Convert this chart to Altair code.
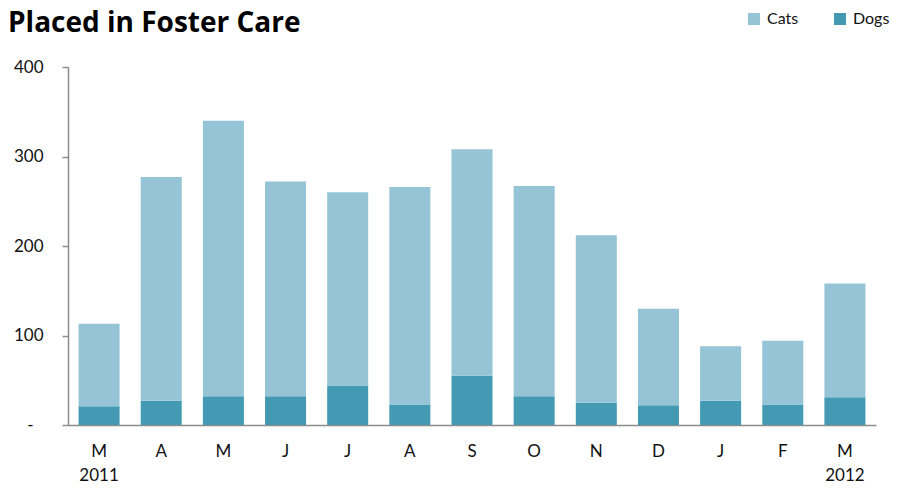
import altair as alt
import pandas as pd

months = ["Mar 2011", "Apr", "May", "Jun", "Jul", "Aug", "Sep", "Oct", "Nov", "Dec", "Jan", "Feb", "Mar 2012"]
cats = [92, 250, 308, 240, 216, 243, 253, 235, 187, 108, 61, 71, 127]
dogs = [21, 27, 32, 32, 44, 23, 55, 32, 25, 22, 27, 23, 31]
series = ["Cats", "Dogs"]
colors = ["#94C4D5", "#439AB2"]
y_ticks = [0, 100, 200, 300, 400]

rows = []
for m, c, d in zip(months, cats, dogs):
    rows.append({"month": m, "animal": "Dogs", "count": d, "ord": 0})
    rows.append({"month": m, "animal": "Cats", "count": c, "ord": 1})
df = pd.DataFrame(rows)

FONT = "Lato"

chart = alt.Chart(df).mark_bar().encode(
    x=alt.X("month:N", sort=months,
            scale=alt.Scale(paddingInner=0.34, paddingOuter=0.17),
            axis=alt.Axis(title=None, labelAngle=0, ticks=False, labelPadding=18,
                          labelBaseline="top", labelLineHeight=24,
                          labelExpr="length(datum.label) > 3 ? [substring(datum.label,0,1), substring(datum.label,4)] : substring(datum.label,0,1)")),
    y=alt.Y("count:Q", stack="zero",
            scale=alt.Scale(domain=[0, 400], nice=False),
            axis=alt.Axis(title=None, values=y_ticks, grid=False, tickSize=6,
                          labelPadding={"condition": {"test": "datum.value == 0", "value": 29}, "value": 19},
                          labelExpr="datum.value == 0 ? '-' : datum.label")),
    color=alt.Color("animal:N", scale=alt.Scale(domain=series, range=colors),
                    legend=alt.Legend(title=None, orient="none", legendX=678, legendY=-56,
                                      direction="horizontal", symbolType="square",
                                      symbolSize=144, symbolStrokeWidth=0,
                                      labelFontSize=16, labelOffset=5, columnPadding=33,
                                      labelFont=FONT, labelColor="#111111")),
    order=alt.Order("ord:Q", sort="ascending"),
).properties(
    width=808,
    height=358,
    autosize=alt.AutoSizeParams(type="none"),
    padding={"left": 60, "top": 59, "right": 14, "bottom": 56},
    title=alt.TitleParams("Placed in Foster Care", anchor="start", frame="group",
                          fontSize=28, fontWeight="bold", font="Open Sans", color="#000000",
                          dx=-60, offset=-49, baseline="alphabetic"),
).configure_view(stroke=None).configure_axis(
    domainColor="#8C8C8C", domainWidth=1.5, tickColor="#8C8C8C", tickWidth=1.5,
    labelFont=FONT, labelFontSize=17, labelColor="#111111",
)

chart.save("out.html", embed_options={"renderer": "svg", "actions": False})
